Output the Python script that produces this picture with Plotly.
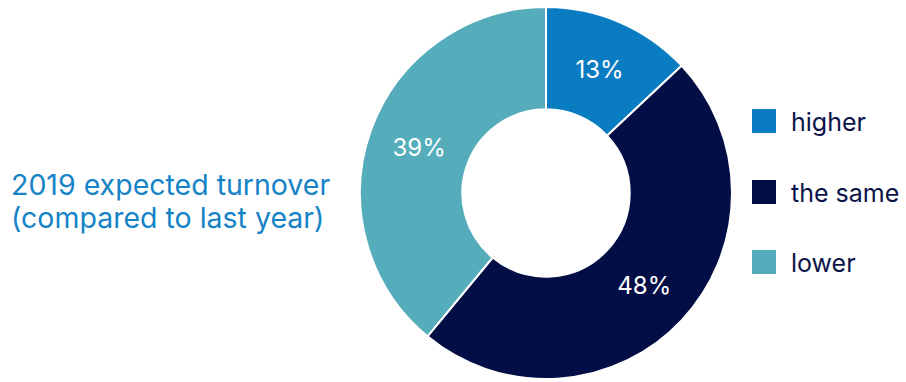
import plotly.graph_objects as go

categories = ["higher", "the same", "lower"]
values = [13, 48, 39]
colors = ["#0a7dc2", "#030e46", "#55adbb"]
title_lines = ["2019 expected turnover", "(compared to last year)"]

W, H = 906, 382
fig = go.Figure()
fig.add_trace(go.Pie(
    labels=categories, values=values,
    marker=dict(colors=colors, line=dict(color="white", width=2)),
    hole=0.45, sort=False, direction="clockwise", rotation=0,
    texttemplate="%{value}%", textposition="inside",
    insidetextorientation="horizontal",
    textfont=dict(family="Inter", size=24, color="white"),
    domain=dict(x=[360 / W, 732 / W], y=[3 / H, 375 / H]),
    showlegend=False, hoverinfo="label+percent",
))

shapes = []
annotations = []
row_y = [121, 192, 262]
for cat, col, yc in zip(categories, colors, row_y):
    shapes.append(dict(type="rect", xref="paper", yref="paper",
                       x0=752 / W, x1=776 / W,
                       y0=1 - (yc + 12) / H, y1=1 - (yc - 12) / H,
                       fillcolor=col, line=dict(width=0)))
    annotations.append(dict(text=cat, xref="paper", yref="paper",
                            x=789 / W, y=1 - (yc + 1) / H, xanchor="left", yanchor="middle",
                            showarrow=False,
                            font=dict(family="Inter", size=25, color="#0b1448")))

for line, yc in zip(title_lines, [184, 217]):
    annotations.append(dict(text=line, xref="paper", yref="paper",
                            x=9 / W, y=1 - yc / H, xanchor="left", yanchor="middle",
                            align="left", showarrow=False,
                            font=dict(family="Inter", size=28.5, color="#1583c6")))

fig.update_layout(width=W, height=H, margin=dict(l=0, r=0, t=0, b=0),
                  paper_bgcolor="white", plot_bgcolor="white",
                  shapes=shapes, annotations=annotations)
fig.write_html("out.html")
